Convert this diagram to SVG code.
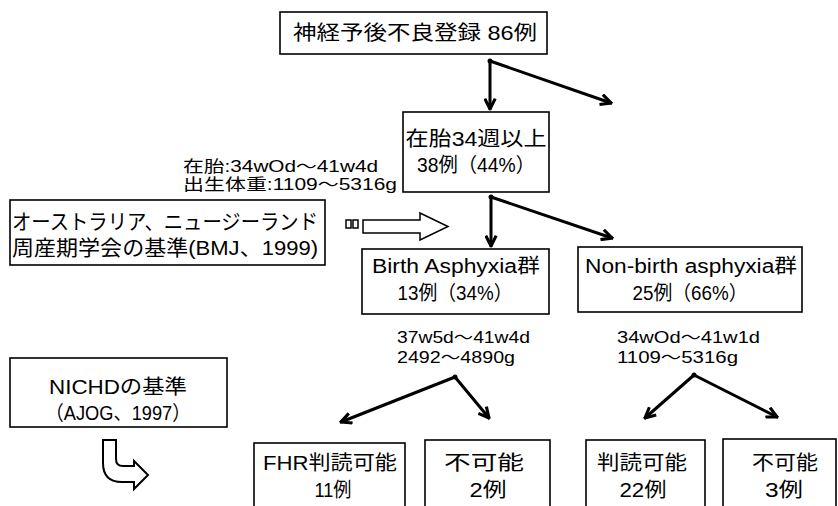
<svg xmlns="http://www.w3.org/2000/svg" width="838" height="506" viewBox="0 0 838 506">
<defs>
<style>
.box{fill:#fff;stroke:#000;stroke-width:1.6}
.t{font-family:"Liberation Sans","Noto Sans CJK JP",sans-serif;fill:#000}
.c{text-anchor:middle}
.f20{font-size:20px}
.f21{font-size:21px}
.f16{font-size:16px}
.con{fill:none;stroke:#000;stroke-width:3;stroke-linecap:round}
</style>
<marker id="ah" viewBox="0 0 10 10" refX="9" refY="5" markerWidth="13" markerHeight="13" markerUnits="userSpaceOnUse" orient="auto">
<path d="M1,1 L9,5 L1,9" fill="none" stroke="#000" stroke-width="2.4" stroke-linejoin="miter"/>
</marker>
</defs>
<rect width="838" height="506" fill="#fff"/>

<g id="n-top">
<rect class="box" x="280" y="12" width="267" height="42"/>
<text class="t f20 c" x="415" y="40" textLength="244" lengthAdjust="spacingAndGlyphs">神経予後不良登録 86例</text>
</g>

<g id="n-34w">
<rect class="box" x="403" y="112" width="146" height="80"/>
<text class="t f20 c" x="476" y="146" textLength="141" lengthAdjust="spacingAndGlyphs">在胎34週以上</text>
<text class="t f20 c" x="476" y="172" textLength="118" lengthAdjust="spacingAndGlyphs">38例（44%）</text>
</g>

<g id="n-range-all">
<text class="t f16" x="183" y="172" textLength="195" lengthAdjust="spacingAndGlyphs">在胎:34wOd～41w4d</text>
<text class="t f16" x="183" y="190" textLength="214" lengthAdjust="spacingAndGlyphs">出生体重:1109～5316g</text>
</g>

<g id="n-aus">
<rect class="box" x="10" y="200" width="315" height="65"/>
<text class="t f21" x="12" y="229" textLength="306" lengthAdjust="spacingAndGlyphs">オーストラリア、ニュージーランド</text>
<text class="t f21" x="12" y="255" textLength="306" lengthAdjust="spacingAndGlyphs">周産期学会の基準(BMJ、1999)</text>
</g>

<g id="n-hollow-arrow">
<rect x="346" y="220" width="5" height="8" fill="#fff" stroke="#000" stroke-width="1.5"/>
<rect x="353" y="220" width="5" height="8" fill="#fff" stroke="#000" stroke-width="1.5"/>
<path d="M363,220 L420,220 L420,213 L448,226.5 L420,240 L420,233 L363,233 Z" fill="#fff" stroke="#000" stroke-width="1.5" stroke-linejoin="miter"/>
</g>

<g id="n-birth">
<rect class="box" x="362" y="249" width="187" height="65"/>
<text class="t f20 c" x="456" y="273" textLength="168" lengthAdjust="spacingAndGlyphs">Birth Asphyxia群</text>
<text class="t f20 c" x="455" y="300" textLength="115" lengthAdjust="spacingAndGlyphs">13例（34%）</text>
</g>

<g id="n-nonbirth">
<rect class="box" x="578" y="247" width="224" height="65"/>
<text class="t f20 c" x="691" y="273" textLength="212" lengthAdjust="spacingAndGlyphs">Non-birth asphyxia群</text>
<text class="t f20 c" x="690" y="300" textLength="115" lengthAdjust="spacingAndGlyphs">25例（66%）</text>
</g>

<g id="n-range-birth">
<text class="t f16" x="397" y="343" textLength="133" lengthAdjust="spacingAndGlyphs">37w5d～41w4d</text>
<text class="t f16" x="397" y="363" textLength="118" lengthAdjust="spacingAndGlyphs">2492～4890g</text>
</g>

<g id="n-range-nonbirth">
<text class="t f16" x="617" y="343" textLength="143" lengthAdjust="spacingAndGlyphs">34wOd～41w1d</text>
<text class="t f16" x="617" y="363" textLength="121" lengthAdjust="spacingAndGlyphs">1109～5316g</text>
</g>

<g id="n-nichd">
<rect class="box" x="10" y="358" width="217" height="69"/>
<text class="t f20 c" x="118" y="394" textLength="138" lengthAdjust="spacingAndGlyphs">NICHDの基準</text>
<text class="t f20 c" x="118" y="420" textLength="145" lengthAdjust="spacingAndGlyphs">（AJOG、1997）</text>
</g>

<g id="n-curved-arrow">
<path d="M103,440 L116,440 L116,459 Q116,466 123,466 L134,466 L134,461 L148,475 L134,489 L134,482 L122,482 Q103,482 103,463 Z" fill="#fff" stroke="#000" stroke-width="2" stroke-linejoin="miter"/>
</g>

<g id="n-fhr-ok">
<rect class="box" x="254" y="443" width="151" height="70"/>
<text class="t f20 c" x="330" y="470" textLength="134" lengthAdjust="spacingAndGlyphs">FHR判読可能</text>
<text class="t f20 c" x="333" y="497" textLength="37" lengthAdjust="spacingAndGlyphs">11例</text>
</g>

<g id="n-fhr-ng">
<rect class="box" x="425" y="440" width="125" height="73"/>
<text class="t f20 c" x="484" y="470" textLength="80" lengthAdjust="spacingAndGlyphs">不可能</text>
<text class="t f20 c" x="488" y="497" textLength="37" lengthAdjust="spacingAndGlyphs">2例</text>
</g>

<g id="n-nb-ok">
<rect class="box" x="586" y="440" width="119" height="73"/>
<text class="t f20 c" x="642" y="470" textLength="90" lengthAdjust="spacingAndGlyphs">判読可能</text>
<text class="t f20 c" x="643" y="497" textLength="47" lengthAdjust="spacingAndGlyphs">22例</text>
</g>

<g id="n-nb-ng">
<rect class="box" x="723" y="439" width="113" height="74"/>
<text class="t f20 c" x="785" y="470" textLength="66" lengthAdjust="spacingAndGlyphs">不可能</text>
<text class="t f20 c" x="784" y="497" textLength="38" lengthAdjust="spacingAndGlyphs">3例</text>
</g>

<g id="connectors">
<circle cx="490" cy="61" r="2.5" fill="#000"/>
<path class="con" d="M490,61 L490,109" marker-end="url(#ah)"/>
<path class="con" d="M490,61 L611,103" marker-end="url(#ah)"/>
<circle cx="491" cy="197" r="2.5" fill="#000"/>
<path class="con" d="M491,197 L491,246" marker-end="url(#ah)"/>
<path class="con" d="M491,197 L612,238" marker-end="url(#ah)"/>
<circle cx="455" cy="377" r="2.5" fill="#000"/>
<path class="con" d="M455,377 L341,422" marker-end="url(#ah)"/>
<path class="con" d="M455,377 L489,418" marker-end="url(#ah)"/>
<circle cx="694" cy="375" r="2.5" fill="#000"/>
<path class="con" d="M694,375 L645,418" marker-end="url(#ah)"/>
<path class="con" d="M694,375 L777,417" marker-end="url(#ah)"/>
</g>
</svg>
